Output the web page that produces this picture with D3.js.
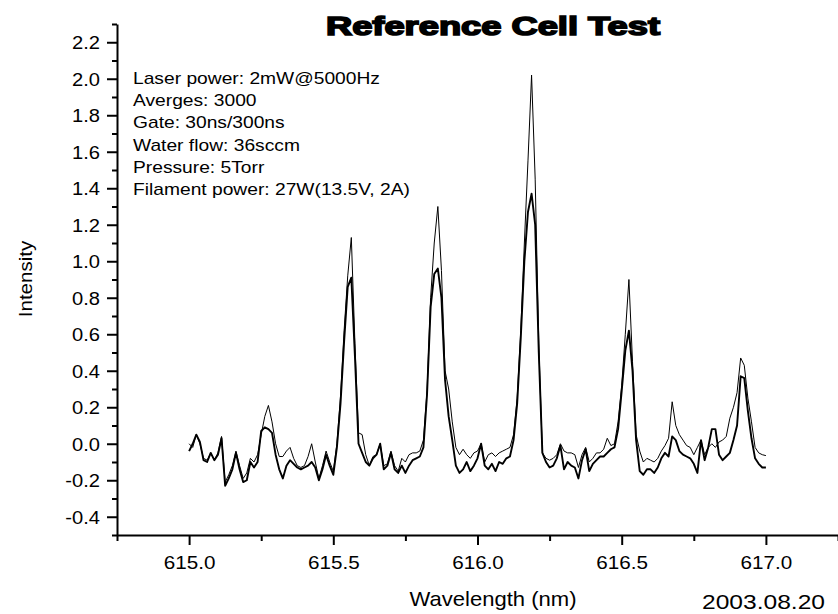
<!DOCTYPE html>
<html>
<head>
<meta charset="utf-8">
<script src="https://cdn.jsdelivr.net/npm/d3@7"></script>
<style>
  body { margin: 0; background: #fff; }
  text { font-family: "Liberation Sans", Arial, sans-serif; fill: #000; }
</style>
</head>
<body>
<div id="chart"></div>
<script>
// spectrum sampling
const startWl = 615.0;
const stepWl = 0.0125;

// thin trace (higher peaks)
const thinSeries = [
  0.00, -0.02, 0.05, 0.00, -0.08, -0.09, -0.05, -0.09, -0.05, 0.04,
  -0.21, -0.17, -0.12, -0.04, -0.12, -0.19, -0.16, -0.08, -0.10, -0.06,
  0.05, 0.15, 0.21, 0.12, 0.00, -0.07, -0.07, -0.04, -0.02, -0.08,
  -0.12, -0.13, -0.12, -0.07, 0.00, -0.10, -0.19, -0.12, -0.04, -0.10,
  -0.15, 0.00, 0.26, 0.62, 0.92, 1.13, 0.55, 0.06, 0.05, -0.06,
  -0.12, -0.07, -0.06, 0.00, -0.12, -0.11, -0.04, -0.12, -0.15, -0.08,
  -0.10, -0.06, -0.05, -0.05, -0.04, 0.02, 0.29, 0.80, 1.10, 1.30,
  0.95, 0.40, 0.30, 0.12, -0.02, -0.06, -0.03, -0.06, -0.08, -0.05,
  -0.04, 0.00, -0.10, -0.06, -0.05, -0.07, -0.05, -0.04, -0.03, -0.02,
  0.05, 0.25, 0.62, 1.10, 1.55, 2.02, 1.45, 0.55, -0.05, -0.08,
  -0.09, -0.08, -0.06, 0.00, -0.04, -0.05, -0.05, -0.06, -0.13, -0.06,
  -0.02, -0.10, -0.08, -0.05, -0.05, -0.03, 0.03, -0.01, 0.00, 0.12,
  0.32, 0.60, 0.90, 0.45, 0.05, -0.04, -0.10, -0.08, -0.09, -0.10,
  -0.08, -0.04, -0.01, 0.03, 0.23, 0.10, 0.05, 0.02, -0.01, -0.02,
  -0.06, -0.02, 0.02, -0.06, -0.02, 0.00, -0.02, 0.01, 0.02, 0.04,
  0.14, 0.20, 0.28, 0.47, 0.43, 0.25, 0.12, -0.02, -0.05, -0.06,
  -0.065
];

// thick trace (lower peaks)
const thickSeries = [
  -0.04, 0.00, 0.05, 0.01, -0.09, -0.10, -0.05, -0.09, -0.06, 0.03,
  -0.23, -0.19, -0.14, -0.05, -0.14, -0.21, -0.20, -0.10, -0.13, -0.10,
  0.07, 0.09, 0.08, 0.06, -0.06, -0.14, -0.19, -0.12, -0.09, -0.11,
  -0.13, -0.14, -0.13, -0.12, -0.10, -0.13, -0.20, -0.14, -0.06, -0.12,
  -0.17, -0.02, 0.22, 0.56, 0.86, 0.91, 0.48, 0.00, -0.05, -0.10,
  -0.12, -0.08, -0.06, 0.00, -0.14, -0.12, -0.05, -0.14, -0.16, -0.12,
  -0.16, -0.12, -0.09, -0.08, -0.07, -0.02, 0.27, 0.75, 0.93, 0.96,
  0.80, 0.35, 0.15, 0.02, -0.12, -0.16, -0.14, -0.10, -0.15, -0.12,
  -0.08, 0.00, -0.12, -0.14, -0.11, -0.15, -0.10, -0.11, -0.08, -0.07,
  0.02, 0.22, 0.58, 1.00, 1.27, 1.37, 1.20, 0.50, -0.05, -0.10,
  -0.13, -0.12, -0.08, -0.01, -0.14, -0.10, -0.12, -0.13, -0.19, -0.09,
  -0.03, -0.15, -0.11, -0.09, -0.07, -0.07, -0.05, -0.03, -0.02, 0.08,
  0.29, 0.51, 0.62, 0.40, 0.02, -0.15, -0.17, -0.14, -0.14, -0.16,
  -0.13, -0.08, -0.05, -0.07, 0.04, 0.02, -0.04, -0.06, -0.07, -0.08,
  -0.11, -0.16, 0.02, -0.09, -0.02, 0.08, 0.08, -0.06, -0.09, -0.07,
  -0.05, 0.02, 0.10, 0.37, 0.36, 0.18, 0.03, -0.08, -0.11, -0.13,
  -0.13
];

const yTickValues = [-0.4, -0.2, 0.0, 0.2, 0.4, 0.6, 0.8, 1.0, 1.2, 1.4, 1.6, 1.8, 2.0, 2.2];
const yMinorValues = [-0.5, -0.3, -0.1, 0.1, 0.3, 0.5, 0.7, 0.9, 1.1, 1.3, 1.5, 1.7, 1.9, 2.1, 2.3];
const xTickValues = [615.0, 615.5, 616.0, 616.5, 617.0];
const xMinorValues = [614.75, 615.25, 615.75, 616.25, 616.75, 617.25];

const infoLines = [
  "Laser power: 2mW@5000Hz",
  "Averges: 3000",
  "Gate: 30ns/300ns",
  "Water flow: 36sccm",
  "Pressure: 5Torr",
  "Filament power: 27W(13.5V, 2A)"
];

const width = 838, height = 614;
const margin = { left: 117, right: 838, top: 24, bottom: 535 };

const svg = d3.select("#chart").append("svg")
  .attr("width", width).attr("height", height);

const x = d3.scaleLinear().domain([614.75, 617.25]).range([margin.left, margin.right]);
const y = d3.scaleLinear().domain([-0.5, 2.3]).range([margin.bottom, margin.top]);

// the scan looks a bit wider than plain Arial
function stretch(sel, k) {
  sel.each(function () {
    const w = this.getComputedTextLength();
    d3.select(this).attr("textLength", w * k).attr("lengthAdjust", "spacingAndGlyphs");
  });
}

// plain hyphen for negatives, like the original
const fmt = d => d.toFixed(1);

// y axis
const yAxis = svg.append("g").attr("transform", `translate(${margin.left},0)`)
  .call(d3.axisLeft(y).tickValues(yTickValues).tickFormat(fmt)
    .tickSize(10).tickPadding(7).tickSizeOuter(0));
yAxis.select(".domain").attr("stroke-width", 2);
yAxis.selectAll(".tick line").attr("stroke-width", 2);
yAxis.selectAll(".tick text").style("font-size", "17.5px").attr("dy", "0.36em")
  .call(stretch, 1.15);
svg.append("g").attr("transform", `translate(${margin.left},0)`)
  .call(d3.axisLeft(y).tickValues(yMinorValues).tickSize(5).tickFormat("").tickSizeOuter(0))
  .call(g => g.select(".domain").remove())
  .selectAll(".tick line").attr("stroke-width", 2);

// x axis
const xAxis = svg.append("g").attr("transform", `translate(0,${margin.bottom})`)
  .call(d3.axisBottom(x).tickValues(xTickValues).tickFormat(fmt)
    .tickSize(10).tickPadding(12).tickSizeOuter(0));
xAxis.select(".domain").attr("stroke-width", 2);
xAxis.selectAll(".tick line").attr("stroke-width", 2);
xAxis.selectAll(".tick text").style("font-size", "17.5px").call(stretch, 1.18);
svg.append("g").attr("transform", `translate(0,${margin.bottom})`)
  .call(d3.axisBottom(x).tickValues(xMinorValues).tickSize(6).tickFormat("").tickSizeOuter(0))
  .call(g => g.select(".domain").remove())
  .selectAll(".tick line").attr("stroke-width", 2);

// traces
const line = d3.line()
  .x((d, i) => x(startWl + i * stepWl))
  .y(d => y(d));

svg.append("path").datum(thickSeries)
  .attr("fill", "none").attr("stroke", "#000").attr("stroke-width", 1.9)
  .attr("stroke-linejoin", "round").attr("d", line);
svg.append("path").datum(thinSeries)
  .attr("fill", "none").attr("stroke", "#000").attr("stroke-width", 1)
  .attr("stroke-linejoin", "round").attr("d", line);

// title
svg.append("text")
  .attr("x", 493).attr("y", 35)
  .attr("text-anchor", "middle")
  .style("font-size", "26px").style("font-weight", "bold")
  .style("stroke", "#000").style("stroke-width", 1.6)
  .attr("textLength", 334).attr("lengthAdjust", "spacingAndGlyphs")
  .text("Reference Cell Test");

// info block
svg.append("g").selectAll("text")
  .data(infoLines).enter()
  .append("text")
  .attr("x", 133)
  .attr("y", (d, i) => 84 + i * 22.2)
  .style("font-size", "17px")
  .text(d => d)
  .call(stretch, 1.13);

// axis titles
svg.append("text")
  .attr("x", 493).attr("y", 606)
  .attr("text-anchor", "middle")
  .style("font-size", "21px")
  .text("Wavelength (nm)")
  .call(stretch, 1.05);

svg.append("text")
  .attr("transform", "translate(32,279) rotate(-90)")
  .attr("text-anchor", "middle")
  .style("font-size", "19px")
  .text("Intensity")
  .call(stretch, 1.08);

svg.append("text")
  .attr("x", 825).attr("y", 609)
  .attr("text-anchor", "end")
  .style("font-size", "21px")
  .text("2003.08.20")
  .call(stretch, 1.17);
</script>
</body>
</html>
